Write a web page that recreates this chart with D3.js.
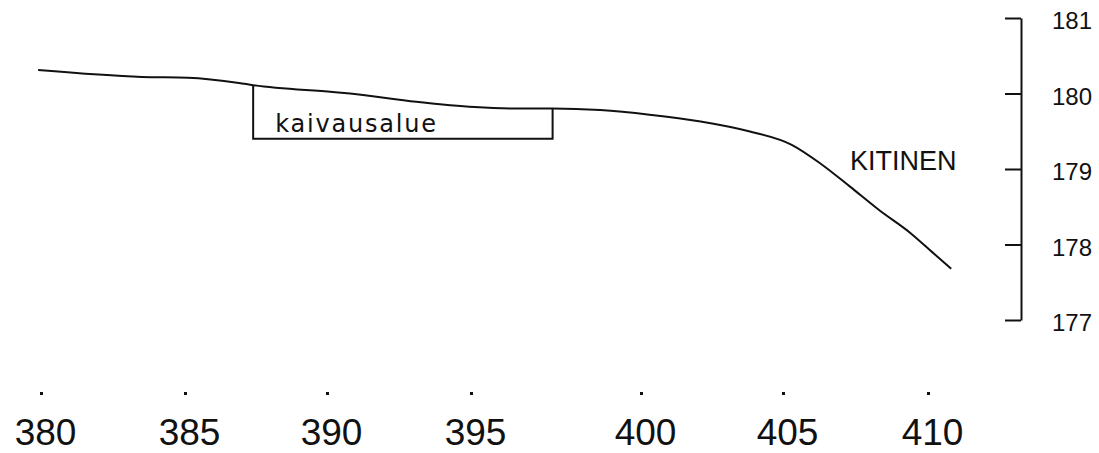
<!DOCTYPE html>
<html>
<head>
<meta charset="utf-8">
<script src="https://cdn.jsdelivr.net/npm/d3@7"></script>
<style>
  body { margin: 0; background: #fff; }
  svg { display: block; }
</style>
</head>
<body>
<div id="profile"></div>
<script>
// water surface profile, km along the river vs. elevation (m)
var km = [379.9, 383.5, 385.1, 386.9, 387.4, 390.2, 390.8, 393.1, 395.1, 396.4, 397.4, 398.8, 400.3, 402.1, 403.8, 405.3, 406.3, 407.3, 408.3, 409.4, 410.2, 410.8];
var elev = [180.31, 180.22, 180.21, 180.14, 180.11, 180.02, 180.0, 179.89, 179.82, 179.8, 179.8, 179.78, 179.72, 179.63, 179.5, 179.32, 179.07, 178.77, 178.46, 178.15, 177.88, 177.68];

var xTicks = [380, 385, 390, 395, 400, 405, 410];
var yTicks = [177, 178, 179, 180, 181];

// excavation area (kaivausalue)
var areaStart = 387.4;
var areaEnd = 397.4;
var areaTopStart = 180.11;
var areaTopEnd = 179.8;
var areaBottom = 179.4;

var width = 1099, height = 453;

var svg = d3.select("#profile").append("svg")
  .attr("width", width)
  .attr("height", height);

// the original drawing's km spacing is not uniform, so piecewise scale
var xScale = d3.scaleLinear()
  .domain(xTicks)
  .range([41, 185, 327, 471, 641, 783, 928]);

var yScale = d3.scaleLinear()
  .domain([177, 181])
  .range([320, 18]);

var data = km.map((d, i) => ({km: d, elev: elev[i]}));

var line = d3.line()
  .x((d) => xScale(d.km))
  .y((d) => yScale(d.elev))
  .curve(d3.curveMonotoneX);

svg.append("path")
  .datum(data)
  .attr("fill", "none")
  .attr("stroke", "#111")
  .attr("stroke-width", 2)
  .attr("stroke-linejoin", "round")
  .attr("d", line);

// box under the line
var boxLine = d3.line()
  .x((d) => xScale(d.km))
  .y((d) => yScale(d.elev));

svg.append("path")
  .datum([
    {km: areaStart, elev: areaTopStart},
    {km: areaStart, elev: areaBottom},
    {km: areaEnd, elev: areaBottom},
    {km: areaEnd, elev: areaTopEnd}
  ])
  .attr("fill", "none")
  .attr("stroke", "#111")
  .attr("stroke-width", 2)
  .attr("d", boxLine);

svg.append("text")
  .attr("x", xScale(areaStart) + 22)
  .attr("y", yScale(areaBottom) - 7)
  .style("font-family", "DejaVu Sans")
  .style("font-size", "24px")
  .style("letter-spacing", "1.8px")
  .attr("fill", "#111")
  .text("kaivausalue");

svg.append("text")
  .attr("x", 850)
  .attr("y", 170)
  .style("font-family", "Liberation Sans")
  .style("font-size", "27px")
  .attr("fill", "#111")
  .text("KITINEN");

// x axis: only dots and labels
var xAxis = d3.axisBottom(xScale)
  .tickValues(xTicks)
  .tickSize(3)
  .tickFormat((d) => "" + d);

var gx = svg.append("g")
  .attr("class", "x-axis axis")
  .attr("transform", "translate(0,392)")
  .call(xAxis);

gx.select(".domain").remove();
gx.selectAll(".tick line")
  .attr("stroke", "#111")
  .attr("stroke-width", 3);
gx.selectAll(".tick text")
  .attr("y", 53)
  .attr("dy", 0)
  .attr("dx", 4)
  .attr("fill", "#111")
  .style("font-family", "Liberation Sans")
  .style("font-size", "37px");

// elevation axis on the right
var yAxis = d3.axisRight(yScale)
  .tickValues(yTicks)
  .tickSizeInner(-16)
  .tickSizeOuter(0)
  .tickPadding(31)
  .tickFormat((d) => "" + d);

var gy = svg.append("g")
  .attr("class", "y-axis axis")
  .attr("transform", "translate(1021,0)")
  .call(yAxis);

gy.select(".domain")
  .attr("stroke", "#111")
  .attr("stroke-width", 2);
gy.selectAll(".tick line")
  .attr("stroke", "#111")
  .attr("stroke-width", 2);
gy.selectAll(".tick text")
  .attr("dy", "0.45em")
  .attr("fill", "#111")
  .style("font-family", "Liberation Sans")
  .style("font-size", "24px");
</script>
</body>
</html>
